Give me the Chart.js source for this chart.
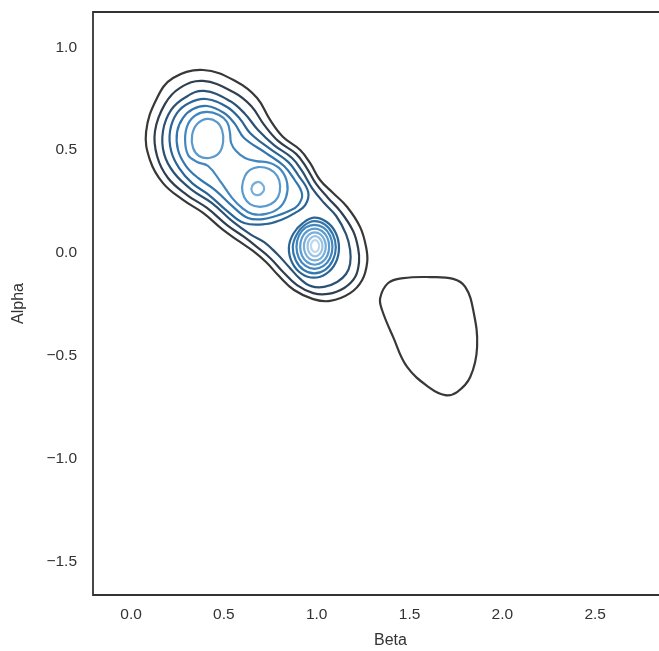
<!DOCTYPE html>
<html>
<head>
<meta charset="utf-8">
<script src="https://cdn.jsdelivr.net/npm/chart.js@4/dist/chart.umd.min.js"></script>
<style>
    html, body { margin: 0; padding: 0; background: #ffffff; overflow: hidden; }
    #wrap { width: 700px; height: 651px; }
</style>
</head>
<body>
<div id="wrap"><canvas id="kde_graph" width="700" height="651"></canvas></div>
<script>

// contour colours, outer (lowest density) line first
const levelColors = ["#383838", "#2f3f50", "#2b5274", "#2b6595", "#3376ae",
                     "#4287c0", "#5a9acc", "#78aed8", "#98c3e4", "#bcd9ef"];

const xTicks = [0.0, 0.5, 1.0, 1.5, 2.0, 2.5, 3.0];
const yTicks = [-1.5, -1.0, -0.5, 0.0, 0.5, 1.0];

// [beta, alpha] points of each closed contour
const l1Main = [[0.388,0.890],[0.571,0.832],[0.679,0.754],[0.749,0.647],[0.819,0.564],[0.911,0.501],[0.964,0.438],[1.018,0.355],[1.088,0.292],[1.164,0.224],[1.234,0.126],[1.266,0.029],[1.272,-0.044],[1.245,-0.131],[1.180,-0.195],[1.072,-0.233],[0.981,-0.224],[0.878,-0.180],[0.797,-0.112],[0.727,-0.044],[0.657,0.010],[0.587,0.054],[0.496,0.112],[0.388,0.195],[0.280,0.258],[0.172,0.340],[0.102,0.452],[0.081,0.589],[0.140,0.754],[0.226,0.851]];
const l1Side = [[1.466,-0.122],[1.611,-0.117],[1.735,-0.126],[1.800,-0.165],[1.843,-0.277],[1.864,-0.457],[1.827,-0.603],[1.756,-0.676],[1.692,-0.691],[1.611,-0.657],[1.487,-0.554],[1.412,-0.409],[1.352,-0.277],[1.342,-0.219],[1.385,-0.146]];
const l2 = [[0.388,0.837],[0.550,0.783],[0.647,0.715],[0.717,0.623],[0.792,0.545],[0.889,0.482],[0.943,0.418],[0.997,0.336],[1.061,0.268],[1.131,0.199],[1.196,0.107],[1.223,0.024],[1.228,-0.044],[1.207,-0.117],[1.148,-0.170],[1.061,-0.199],[0.981,-0.195],[0.894,-0.156],[0.819,-0.092],[0.749,-0.024],[0.679,0.029],[0.609,0.078],[0.517,0.136],[0.409,0.219],[0.302,0.282],[0.199,0.365],[0.140,0.472],[0.129,0.593],[0.183,0.725],[0.264,0.803]];
const l3 = [[0.393,0.788],[0.533,0.739],[0.614,0.676],[0.684,0.598],[0.770,0.525],[0.867,0.462],[0.921,0.399],[0.975,0.316],[1.040,0.243],[1.105,0.180],[1.158,0.092],[1.180,0.015],[1.180,-0.053],[1.158,-0.102],[1.110,-0.141],[1.040,-0.165],[0.970,-0.161],[0.911,-0.126],[0.851,-0.068],[0.787,-0.005],[0.717,0.053],[0.647,0.088],[0.550,0.151],[0.436,0.243],[0.329,0.306],[0.232,0.389],[0.178,0.482],[0.172,0.593],[0.216,0.696],[0.296,0.759]];
const l4Pair = [[0.404,0.749],[0.517,0.710],[0.587,0.652],[0.641,0.584],[0.749,0.506],[0.846,0.443],[0.900,0.379],[0.954,0.297],[0.938,0.233],[0.884,0.195],[0.808,0.161],[0.727,0.141],[0.609,0.146],[0.512,0.209],[0.420,0.282],[0.329,0.340],[0.259,0.413],[0.216,0.496],[0.210,0.593],[0.248,0.681],[0.313,0.730]];
const l5Pair = [[0.409,0.715],[0.501,0.681],[0.560,0.627],[0.609,0.559],[0.727,0.486],[0.824,0.423],[0.878,0.360],[0.921,0.287],[0.900,0.233],[0.851,0.204],[0.781,0.180],[0.711,0.165],[0.630,0.170],[0.544,0.229],[0.453,0.306],[0.361,0.365],[0.296,0.423],[0.253,0.501],[0.248,0.589],[0.280,0.657],[0.334,0.700]];
const l6Pair = [[0.409,0.686],[0.474,0.671],[0.517,0.637],[0.533,0.584],[0.539,0.535],[0.566,0.496],[0.614,0.462],[0.673,0.447],[0.749,0.438],[0.808,0.404],[0.841,0.340],[0.835,0.272],[0.797,0.219],[0.727,0.190],[0.652,0.190],[0.598,0.219],[0.544,0.268],[0.480,0.350],[0.415,0.423],[0.356,0.443],[0.307,0.477],[0.291,0.554],[0.307,0.627],[0.350,0.671]];
const l7Left = [[0.409,0.652],[0.463,0.637],[0.490,0.598],[0.496,0.540],[0.474,0.486],[0.420,0.462],[0.366,0.472],[0.334,0.511],[0.329,0.574],[0.356,0.627]];
const l7Mid = [[0.684,0.418],[0.744,0.409],[0.787,0.375],[0.803,0.326],[0.792,0.272],[0.754,0.238],[0.695,0.224],[0.641,0.238],[0.609,0.272],[0.598,0.321],[0.614,0.375],[0.641,0.404]];
const l8Mid = [[0.679,0.345],[0.706,0.336],[0.717,0.311],[0.700,0.287],[0.673,0.282],[0.652,0.297],[0.652,0.326]];

// rings round the peak near (1.0, 0.03)
const l4Right = [[0.985,0.172],[1.052,0.152],[1.102,0.099],[1.120,0.026],[1.102,-0.047],[1.052,-0.100],[0.985,-0.120],[0.918,-0.100],[0.868,-0.047],[0.850,0.026],[0.874,0.094],[0.925,0.145]];
const l5Right = [[0.987,0.155],[1.045,0.138],[1.087,0.091],[1.103,0.028],[1.087,-0.035],[1.045,-0.082],[0.987,-0.099],[0.929,-0.082],[0.887,-0.035],[0.871,0.028],[0.891,0.088],[0.933,0.134]];
const l6Right = [[0.988,0.137],[1.037,0.123],[1.072,0.084],[1.085,0.030],[1.072,-0.024],[1.037,-0.063],[0.988,-0.077],[0.940,-0.063],[0.904,-0.024],[0.891,0.030],[0.904,0.084],[0.940,0.123]];
const l7Right = [[0.989,0.119],[1.028,0.107],[1.057,0.075],[1.067,0.031],[1.057,-0.013],[1.028,-0.045],[0.989,-0.057],[0.950,-0.045],[0.921,-0.013],[0.911,0.031],[0.921,0.075],[0.950,0.107]];
const l8Right = [[0.990,0.100],[1.020,0.091],[1.041,0.066],[1.049,0.032],[1.041,-0.002],[1.020,-0.027],[0.990,-0.036],[0.960,-0.027],[0.939,-0.002],[0.931,0.032],[0.939,0.066],[0.960,0.091]];
const l9Right = [[0.991,0.082],[1.011,0.075],[1.026,0.057],[1.031,0.033],[1.026,0.009],[1.011,-0.009],[0.991,-0.016],[0.971,-0.009],[0.956,0.009],[0.951,0.033],[0.956,0.057],[0.971,0.075]];
const l10Right = [[0.991,0.063],[1.006,0.055],[1.013,0.034],[1.006,0.013],[0.991,0.005],[0.976,0.013],[0.969,0.034],[0.976,0.055]];

const contours = [
    [1, l1Main], [1, l1Side], [2, l2], [3, l3],
    [4, l4Pair], [4, l4Right], [5, l5Pair], [5, l5Right],
    [6, l6Pair], [6, l6Right], [7, l7Left], [7, l7Mid], [7, l7Right],
    [8, l8Mid], [8, l8Right], [9, l9Right], [10, l10Right]
];

window.addEventListener("load", function (){
    draw_kde_graph();
});

// wrap the ring round so the smoothed curve closes without a kink,
// the two extra end segments are hidden
function closed_dataset(level, pts){
    let n       = pts.length;
    let seq     = [pts[n - 1]].concat(pts, [pts[0], pts[1]]);
    let last    = seq.length - 1;
    let color   = levelColors[level - 1];
    return {
        data: seq.map(p => ({x: p[0], y: p[1]})),
        borderColor: color,
        borderWidth: 2.2,
        pointRadius: 0,
        fill: false,
        tension: 0.4,
        segment: {
            borderColor: ctx => (ctx.p0DataIndex === 0 || ctx.p1DataIndex === last) ? "rgba(0,0,0,0)" : color
        }
    };
}

function tick_label(v){
    let s = Math.abs(v).toFixed(1);
    return v < 0 ? "\u2212" + s : s;
}

function draw_kde_graph(){

    const frame = {
        id: "frame",
        afterDraw(chart) {
            const c = chart.ctx;
            const a = chart.chartArea;
            c.save();
            c.strokeStyle = "#333333";
            c.lineWidth   = 1.8;
            c.beginPath();
            c.moveTo(a.right, a.top);
            c.lineTo(a.left, a.top);
            c.lineTo(a.left, a.bottom);
            c.lineTo(a.right, a.bottom);
            c.stroke();
            c.restore();
        }
    };

    let datasets = contours.map(c => closed_dataset(c[0], c[1]));
    let tickFont  = { family: "'Liberation Sans', Arial, sans-serif", size: 15.5 };
    let titleFont = { family: "'Liberation Sans', Arial, sans-serif", size: 16, lineHeight: 1.2 };

    const ctx     = document.getElementById("kde_graph").getContext("2d");
    const myChart = new Chart(ctx, {
        type: "line",
        data: { datasets: datasets },
        options: {
            responsive: false,
            animation: false,
            devicePixelRatio: 1,
            layout: { padding: { top: 12, right: 12, left: 0, bottom: 0 } },
            plugins: {
                legend: { display: false },
                tooltip: { enabled: false }
            },
            scales: {
                x: {
                    type: "linear",
                    min: -0.205,
                    max: 3.0,
                    grid: { display: false, drawTicks: false },
                    border: { display: false },
                    afterBuildTicks: sc => { sc.ticks = xTicks.map(v => ({ value: v })); },
                    afterFit: sc => { sc.height = 56; sc.paddingLeft = 0; sc.paddingRight = 0; },
                    ticks: { font: tickFont, color: "#333333", padding: 10, callback: v => tick_label(v) },
                    title: { display: true, text: "Beta", font: titleFont, color: "#333333", padding: { top: 0, bottom: 1 } }
                },
                y: {
                    type: "linear",
                    min: -1.663,
                    max: 1.172,
                    grid: { display: false, drawTicks: false },
                    border: { display: false },
                    afterBuildTicks: sc => { sc.ticks = yTicks.map(v => ({ value: v })); },
                    afterFit: sc => { sc.width = 93; sc.paddingTop = 0; sc.paddingBottom = 0; },
                    ticks: { font: tickFont, color: "#333333", padding: 16, callback: v => tick_label(v) },
                    title: { display: true, text: "Alpha", font: titleFont, color: "#333333", padding: { top: 9, bottom: 0 } }
                }
            }
        },
        plugins: [ frame ]
    });
}
</script>
</body>
</html>
